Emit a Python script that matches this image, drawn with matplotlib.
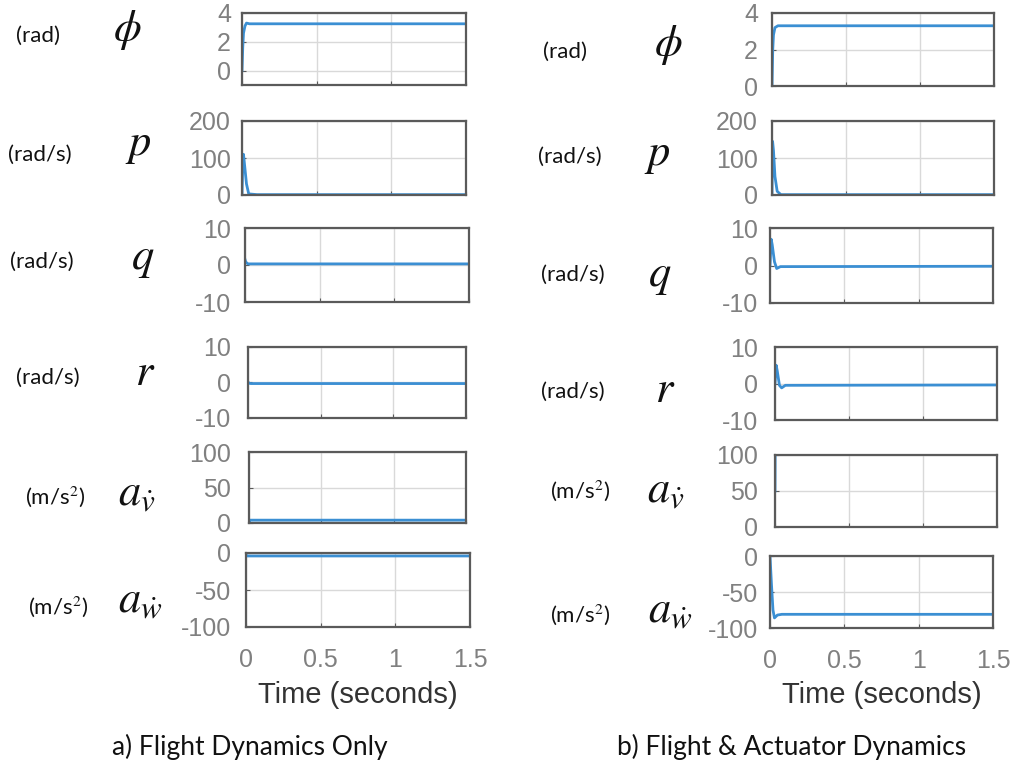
import numpy as np
import matplotlib
matplotlib.use("Agg")
from matplotlib import pyplot as plt

plt.rcParams['mathtext.fontset'] = 'stix'

# ---- data (time in seconds) ----
# a) flight dynamics only
t_phi_a = [0, 0.005, 0.01, 0.02, 0.03, 0.05, 1.5]
phi_a = [0, 1.6, 2.6, 3.1, 3.3, 3.25, 3.25]
t_p_a = [0, 0.005, 0.01, 0.02, 0.03, 0.045, 0.1, 1.5]
p_a = [0, 80, 110, 70, 30, 3, 1, 1]
t_q_a = [0, 0.005, 0.02, 1.5]
q_a = [1.5, 0.8, 0.3, 0.3]
t_r_a = [0, 0.005, 0.02, 1.5]
r_a = [0.2, -0.2, -0.3, -0.3]
t_av_a = [0, 0.005, 1.5]
av_a = [2, 4, 4]
t_aw_a = [0, 0.005, 1.5]
aw_a = [-2, -4, -4]

# b) flight & actuator dynamics
t_phi_b = [0, 0.005, 0.01, 0.02, 0.04, 1.5]
phi_b = [0, 2.0, 2.8, 3.2, 3.3, 3.3]
t_p_b = [0, 0.004, 0.01, 0.02, 0.035, 0.06, 1.5]
p_b = [0, 145, 120, 50, 10, 1, 1]
t_q_b = [0, 0.008, 0.015, 0.03, 0.045, 0.07, 1.5]
q_b = [0, 7, 5.5, 1.0, -0.8, -0.3, -0.2]
t_r_b = [0, 0.008, 0.015, 0.03, 0.045, 0.07, 1.5]
r_b = [0, 5, 3.5, -0.5, -1.2, -0.5, -0.4]
t_av_b = [0, 0.002, 1.5]
av_b = [50, 160, 160]
t_aw_b = [0, 0.01, 0.02, 0.03, 0.05, 0.08, 1.5]
aw_b = [0, -40, -75, -86, -82, -81, -81]

ylims = [(-1, 4), (0, 200), (-10, 10), (-10, 10), (0, 100), (-100, 0)]
ylims_b = [(0, 4), (0, 200), (-10, 10), (-10, 10), (0, 100), (-100, 0)]
yticks = [[0, 2, 4], [0, 100, 200], [-10, 0, 10], [-10, 0, 10], [0, 50, 100], [-100, -50, 0]]
xticks = [0, 0.5, 1, 1.5]
xticklabels = ['0', '0.5', '1', '1.5']
units = ['(rad)', '(rad/s)', '(rad/s)', '(rad/s)', '(m/s$^2$)', '(m/s$^2$)']
symbols = [r'$\phi$', r'$p$', r'$q$', r'$r$', r'$a_{\dot{v}}$', r'$a_{\dot{w}}$']
captions = ['a) Flight Dynamics Only', 'b) Flight & Actuator Dynamics']

series_a = [(t_phi_a, phi_a), (t_p_a, p_a), (t_q_a, q_a), (t_r_a, r_a), (t_av_a, av_a), (t_aw_a, aw_a)]
series_b = [(t_phi_b, phi_b), (t_p_b, p_b), (t_q_b, q_b), (t_r_b, r_b), (t_av_b, av_b), (t_aw_b, aw_b)]

# ---- layout in pixels (left, right, top, bottom) ----
W, H = 1018, 765
boxes_a = [(242, 466, 13, 85), (242, 466, 121, 195), (245, 469, 228, 302),
           (248, 466, 347, 418), (249, 466, 452, 523), (246, 470, 553, 627)]
boxes_b = [(772, 994, 13, 86), (772, 994, 121, 195), (770, 993, 228, 303),
           (775, 997, 347, 420), (775, 997, 455, 527), (770, 993, 556, 628)]
label_edge_a = 231   # right edge of the y tick labels, px
label_edge_b = 758
unit_pos_a = [(38, 36), (40, 155), (42, 262), (48, 378), (55, 497), (58, 607)]
sym_pos_a = [(127, 30), (138, 145), (143, 258), (145, 372), (137, 493), (140, 600)]
unit_pos_b = [(565, 52), (570, 157), (573, 275), (573, 392), (580, 491), (580, 615)]
sym_pos_b = [(668, 45), (657, 155), (660, 275), (665, 390), (666, 490), (670, 610)]
xlabel_y = 695

LINE = '#3b8fd3'
SPINE = '#5a5a5a'
TICKC = '#808080'
GRID = '#d9d9d9'


def px_rect(l, r, t, b):
    return [l / W, 1 - b / H, (r - l) / W, (b - t) / H]


def fig_text(fig, x, y, s, **kw):
    fig.text(x / W, 1 - y / H, s, ha='center', va='center', **kw)


fig = plt.figure(figsize=(W / 100, H / 100), dpi=100)

columns = [(boxes_a, series_a, ylims, unit_pos_a, sym_pos_a, label_edge_a),
           (boxes_b, series_b, ylims_b, unit_pos_b, sym_pos_b, label_edge_b)]

for boxes, series, lims, upos, spos, edge in columns:
    for i in range(6):
        l, r, tp, bt = boxes[i]
        ax = fig.add_axes(px_rect(l, r, tp, bt))
        t, y = series[i]
        ax.plot(t, y, color=LINE, lw=2)
        ax.set_xlim(0, 1.5)
        ax.set_ylim(*lims[i])
        ax.set_yticks(yticks[i])
        ax.set_yticklabels([str(v) for v in yticks[i]])
        ax.set_xticks(xticks)
        ax.grid(True, color=GRID, lw=1)
        ax.set_axisbelow(True)
        for s in ax.spines.values():
            s.set_color(SPINE)
            s.set_linewidth(1.6)
        ax.tick_params(direction='in', length=3, color=SPINE, labelcolor=TICKC,
                       labelsize=18)
        ax.tick_params(axis='y', pad=(l - edge) * 0.72)
        ax.tick_params(axis='x', pad=15)
        if i == 5:
            ax.set_xticklabels(xticklabels)
        else:
            ax.set_xticklabels([])
        for lab in ax.get_xticklabels() + ax.get_yticklabels():
            lab.set_family('Liberation Sans')
        if i == 5:
            fig_text(fig, (l + r) / 2, xlabel_y, 'Time (seconds)', fontsize=21,
                     color='#333333', family='Liberation Sans')

        fig_text(fig, upos[i][0], upos[i][1], units[i], fontsize=16,
                 family='Lato', color='#111111')
        fig_text(fig, spos[i][0], spos[i][1], symbols[i], fontsize=32, color='#111111')

fig_text(fig, 250, 747, captions[0], fontsize=19, family='Lato', color='#111111')
fig_text(fig, 792, 747, captions[1], fontsize=19, family='Lato', color='#111111')

plt.savefig('out.png', dpi=100)
